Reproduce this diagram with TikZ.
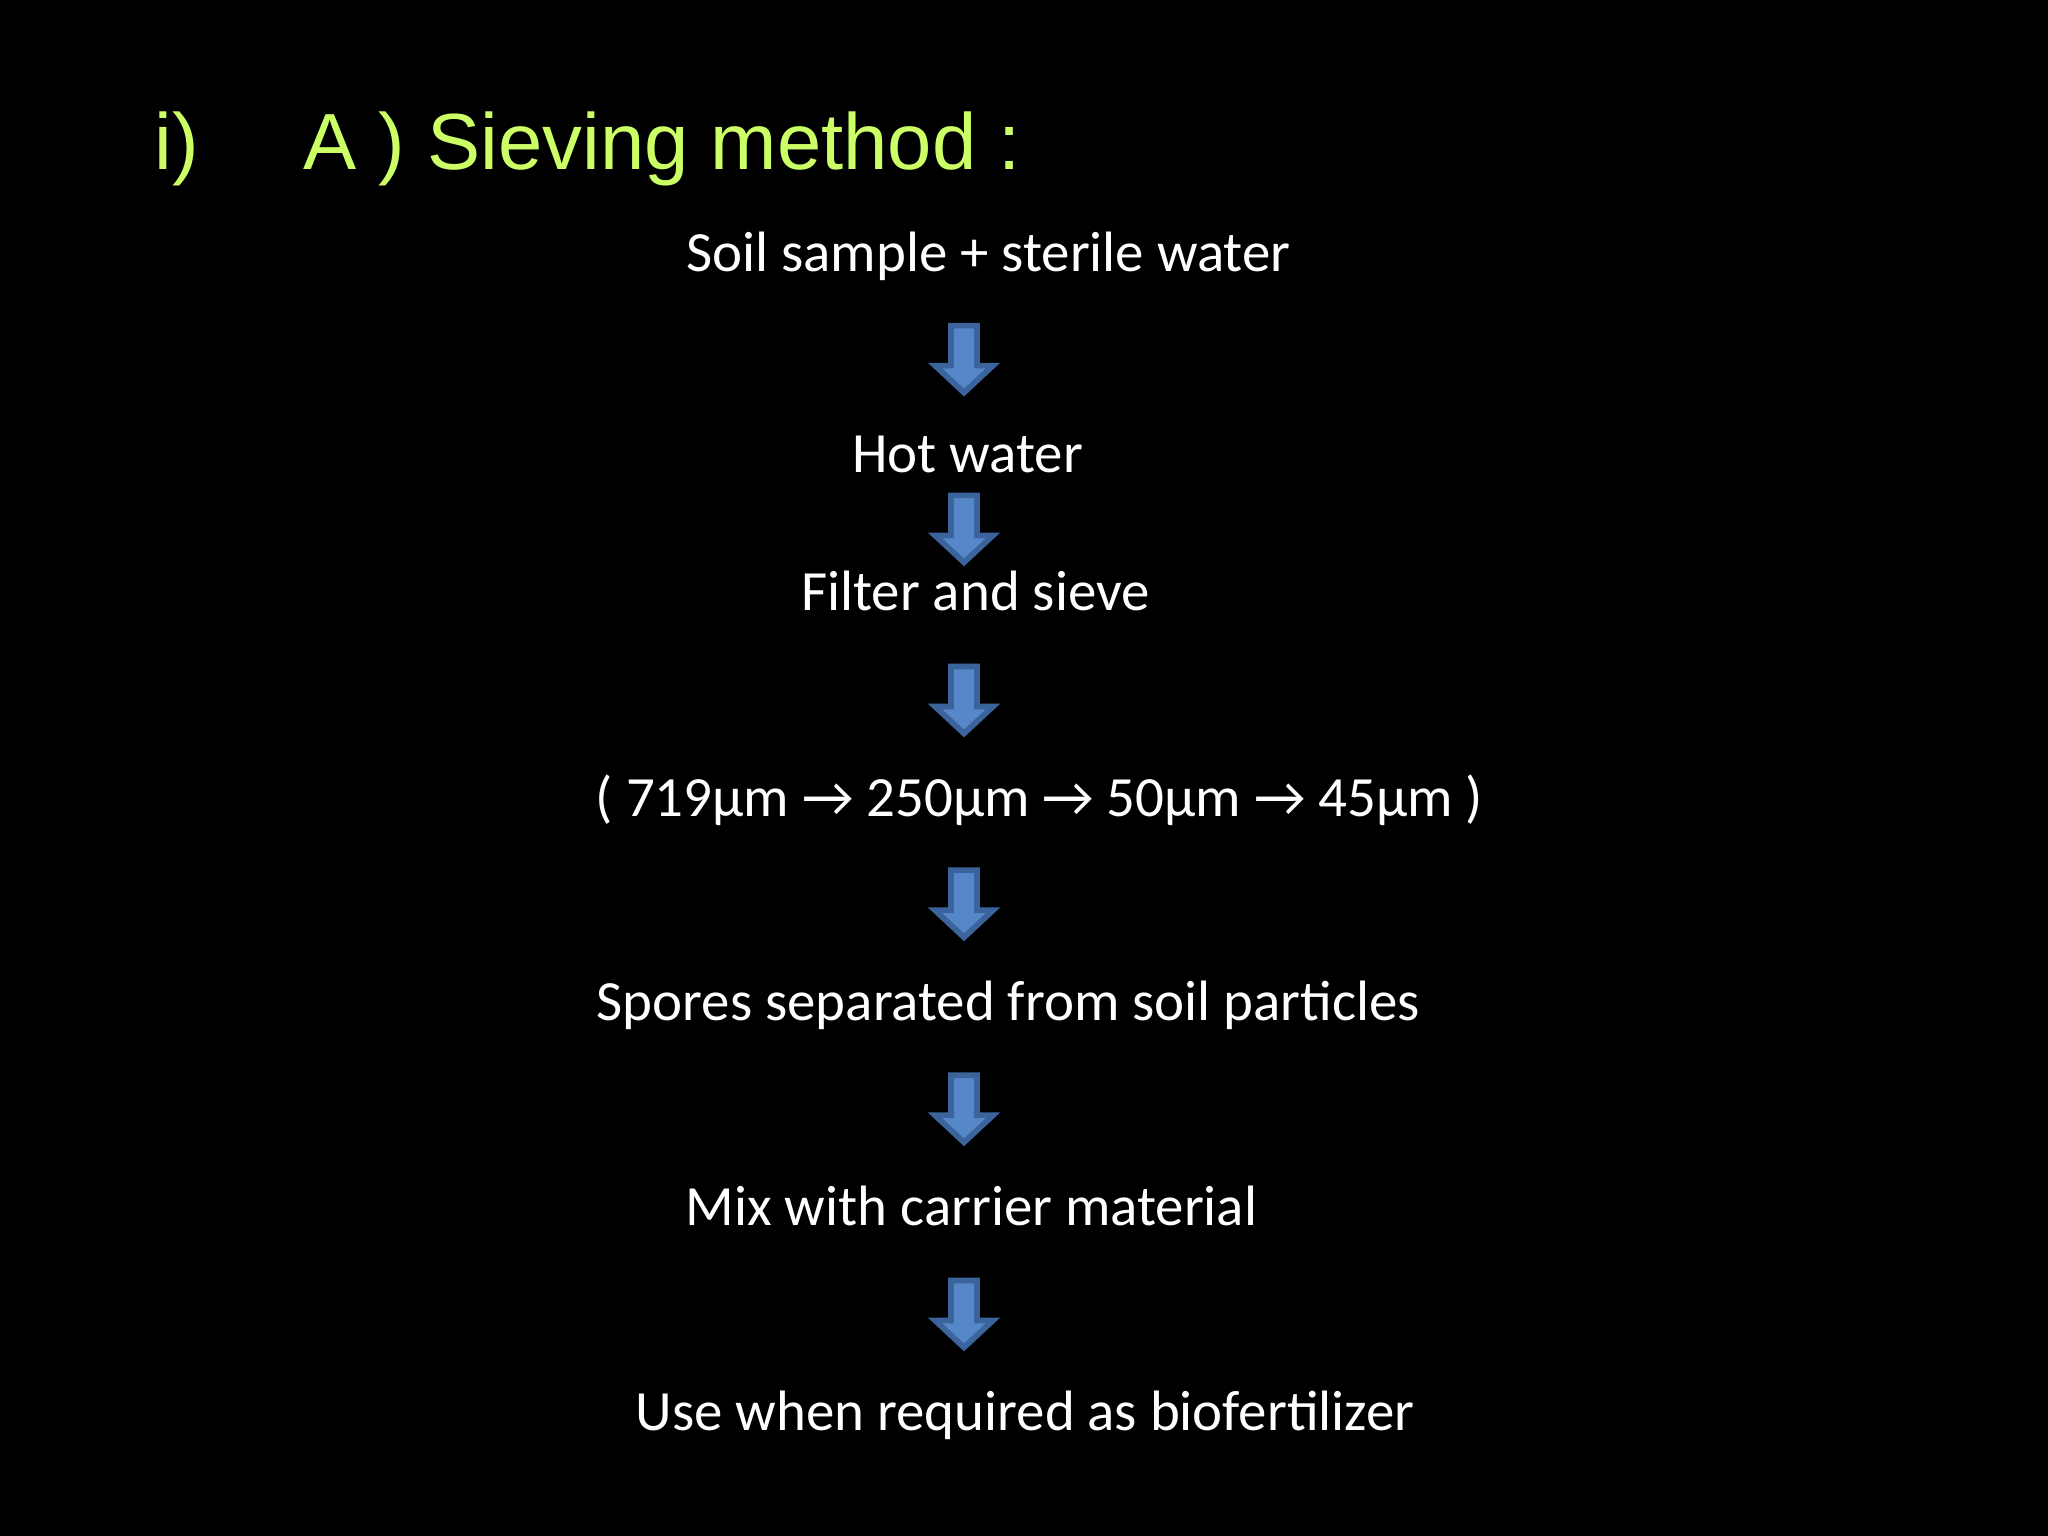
\documentclass[tikz,border=0pt]{standalone}
\usepackage{fontspec}
\setmainfont{Carlito}
\newfontfamily\titlefont{Liberation Sans}
\definecolor{titlegreen}{RGB}{204,255,102}
\definecolor{arrowfill}{RGB}{86,135,200}
\definecolor{arrowline}{RGB}{60,100,156}
\tikzset{
  stepline/.style={text=white, font=\fontsize{20}{24}\selectfont, anchor=base, inner sep=0pt},
  titletext/.style={text=titlegreen, font=\titlefont\fontsize{28}{34}\selectfont, anchor=base west, inner sep=0pt},
  blockarrow/.style={fill=arrowfill, draw=arrowline, line width=2pt, line join=miter},
}
\newcommand\downarrowshape[2]{%
  \path[blockarrow] (#1-13,#2+3) -- (#1+13,#2+3) -- (#1+13,#2+43) -- (#1+29,#2+43)
    -- (#1,#2+70) -- (#1-29,#2+43) -- (#1-13,#2+43) -- cycle;}
\begin{document}
\begin{tikzpicture}[x=0.3515625pt,y=-0.3515625pt]
\useasboundingbox[fill=black] (0,0) rectangle (2048,1536);
\node[titletext] (num) at (154,170) {i)};
\node[titletext] (title) at (303,170) {A ) Sieving method :};
\node[stepline] (s1) at (988.5,272) {Soil sample + sterile water};
\node[stepline] (s2) at (967.5,473) {Hot water};
\node[stepline] (s3) at (975.5,611) {Filter and sieve};
\node[stepline] (s4) at (1039.5,816) {( 719µm → 250µm → 50µm → 45µm )};
\node[stepline] (s5) at (1008.5,1020) {Spores separated from soil particles};
\node[stepline] (s6) at (971.5,1225) {Mix with carrier material};
\node[stepline] (s7) at (1025,1430) {Use when required as biofertilizer};
\downarrowshape{964}{322.6}
\downarrowshape{964}{492.4}
\downarrowshape{964}{663.5}
\downarrowshape{964}{867.3}
\downarrowshape{964}{1072.3}
\downarrowshape{964}{1277.4}
\end{tikzpicture}
\end{document}
